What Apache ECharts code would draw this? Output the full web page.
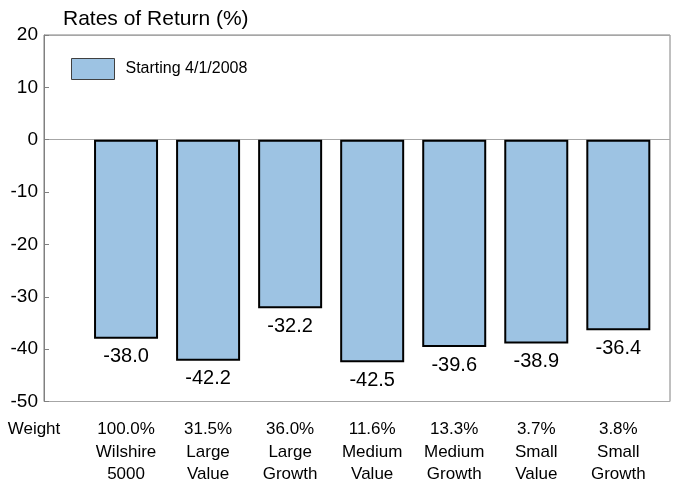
<!DOCTYPE html>
<html><head><meta charset="utf-8">
<script src="https://cdn.jsdelivr.net/npm/echarts@6/dist/echarts.min.js"></script>
<style>html,body{margin:0;padding:0;background:#fff}#c{width:676px;height:486px}</style>
</head><body><div id="c"></div>
<script>
const FONT = "'Liberation Sans',Arial,sans-serif";
const titleText = 'Rates of Return (%)';
const seriesName = 'Starting 4/1/2008';
const rowLabel = 'Weight';
const weights = ['100.0%', '31.5%', '36.0%', '11.6%', '13.3%', '3.7%', '3.8%'];
const categories = ['Wilshire\n5000', 'Large\nValue', 'Large\nGrowth', 'Medium\nValue', 'Medium\nGrowth', 'Small\nValue', 'Small\nGrowth'];
const returns = [-38.0, -42.2, -32.2, -42.5, -39.6, -38.9, -36.4];
const yTicks = [-50, -40, -30, -20, -10, 0, 10, 20];

const chart = echarts.init(document.getElementById('c'));
chart.setOption({
  animation: false,
  title: { text: titleText, left: 58, top: 4, textStyle: { fontFamily: FONT, fontSize: 21, fontWeight: 'normal', color: '#000' } },
  legend: {
    left: 66, top: 53, itemWidth: 43, itemHeight: 21, icon: 'rect',
    itemStyle: { borderColor: '#404040', borderWidth: 1 },
    textStyle: { fontFamily: FONT, fontSize: 16, color: '#000', padding: [0, 0, 0, 6] },
    data: [seriesName]
  },
  grid: { left: 44, right: 6, top: 35, bottom: 80, show: true, borderColor: '#808080', borderWidth: 1 },
  xAxis: {
    type: 'value', min: 0, max: 7.63, interval: 1,
    axisLine: { show: false, onZero: false }, axisTick: { show: false }, splitLine: { show: false },
    axisLabel: {
      margin: 17, showMaxLabel: false, showMinLabel: true,
      fontFamily: FONT, fontSize: 17, color: '#000', lineHeight: 22.5,
      formatter: function (v) {
        if (Math.abs(v) < 1e-6) return '{w|' + rowLabel + '}';
        const i = Math.round(v);
        if (Math.abs(v - i) > 1e-6 || i < 1 || i > weights.length) return '';
        return weights[i - 1] + '\n' + categories[i - 1];
      },
      rich: { w: { fontFamily: FONT, fontSize: 17, color: '#000', padding: [0, 20, 0, 0], lineHeight: 22.5 } }
    }
  },
  yAxis: [{
    type: 'value', min: yTicks[0], max: yTicks[yTicks.length - 1], interval: 10,
    axisLine: { show: true, lineStyle: { color: '#808080' } },
    axisTick: { show: true, inside: true, length: 5, lineStyle: { color: '#808080' } },
    splitLine: { show: false },
    axisLabel: { fontFamily: FONT, fontSize: 19, color: '#000', margin: 6 }
  }, {
    type: 'value', min: -50, max: 20, interval: 50, position: 'left',
    axisLine: { show: false }, axisTick: { show: false }, axisLabel: { show: false },
    splitLine: { show: true, lineStyle: { color: '#a6a6a6', width: 1 } }
  }],
  series: [{
    name: seriesName, type: 'bar', barWidth: 64, yAxisIndex: 0,
    data: returns.map((v, i) => [i + 1, v]),
    itemStyle: { color: '#9DC3E3', borderColor: '#000', borderWidth: 2 },
    label: {
      show: true, position: 'bottom', distance: 8,
      fontFamily: FONT, fontSize: 20, color: '#000',
      formatter: p => p.value[1].toFixed(1)
    }
  }]
});
</script></body></html>
